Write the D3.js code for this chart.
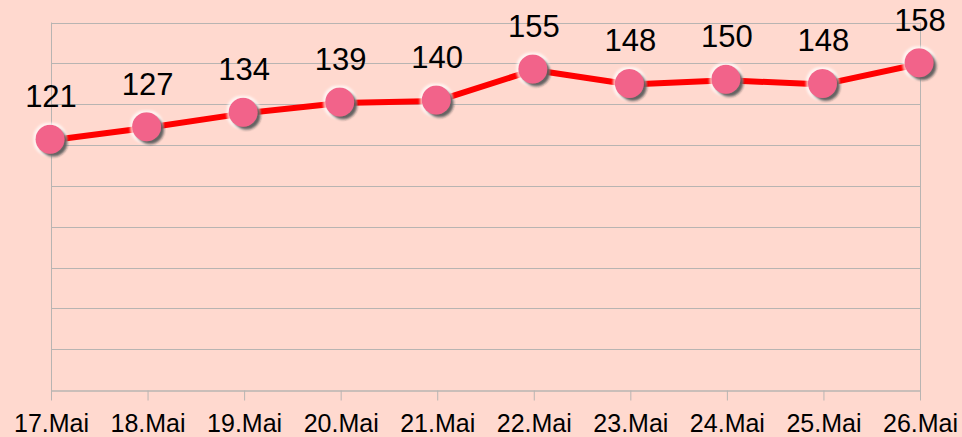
<!DOCTYPE html>
<html>
<head>
<meta charset="utf-8">
<script src="https://cdn.jsdelivr.net/npm/d3@7"></script>
<style>
  html, body { margin: 0; padding: 0; background: #ffd9cf; }
  #chart { width: 962px; height: 437px; font-family: "Liberation Sans", Arial, sans-serif; }
</style>
</head>
<body>
<div id="chart"></div>
<script>
// data
const days = ["17.Mai", "18.Mai", "19.Mai", "20.Mai", "21.Mai", "22.Mai", "23.Mai", "24.Mai", "25.Mai", "26.Mai"];
const values = [121, 127, 134, 139, 140, 155, 148, 150, 148, 158];
const yMax = 178;
const gridCount = 9;

const width = 962, height = 437;
const margin = {top: 22.5, right: 42, bottom: 47, left: 51};

const svg = d3.select("#chart")
  .append("svg")
    .attr("width", width)
    .attr("height", height);

svg.append("rect")
  .attr("width", width)
  .attr("height", height)
  .attr("fill", "#ffd9cf");

// shadow + light halo round the markers
const defs = svg.append("defs");
const f = defs.append("filter")
  .attr("id", "dot-shadow")
  .attr("x", "-50%").attr("y", "-50%")
  .attr("width", "200%").attr("height", "200%");
f.append("feMorphology").attr("in", "SourceAlpha").attr("operator", "dilate").attr("radius", 1.5).attr("result", "grow");
f.append("feGaussianBlur").attr("in", "grow").attr("stdDeviation", 1).attr("result", "growBlur");
f.append("feFlood").attr("flood-color", "#ffffff").attr("flood-opacity", 0.7);
f.append("feComposite").attr("in2", "growBlur").attr("operator", "in").attr("result", "halo");
f.append("feGaussianBlur").attr("in", "SourceAlpha").attr("stdDeviation", 1.2).attr("result", "blur");
f.append("feOffset").attr("in", "blur").attr("dx", 2.5).attr("dy", 3).attr("result", "off");
f.append("feFlood").attr("flood-color", "#1a1a1a").attr("flood-opacity", 0.85);
f.append("feComposite").attr("in2", "off").attr("operator", "in").attr("result", "shadow");
const m = f.append("feMerge");
m.append("feMergeNode").attr("in", "halo");
m.append("feMergeNode").attr("in", "shadow");
m.append("feMergeNode").attr("in", "SourceGraphic");

const x = d3.scalePoint()
  .domain(days)
  .range([margin.left, width - margin.right]);

const y = d3.scaleLinear()
  .domain([0, yMax])
  .range([height - margin.bottom, margin.top]);

// horizontal grid lines
const gridVals = d3.range(1, gridCount + 1).map(i => i * yMax / gridCount);
svg.append("g")
  .selectAll("line")
  .data(gridVals)
  .enter()
  .append("line")
    .attr("x1", margin.left)
    .attr("x2", width - margin.right)
    .attr("y1", d => Math.round(y(d)) + 0.5)
    .attr("y2", d => Math.round(y(d)) + 0.5)
    .attr("stroke", "#b8b4b2")
    .attr("stroke-width", 1);

// left and right frame lines
svg.append("g")
  .selectAll("line")
  .data([margin.left, width - margin.right])
  .enter()
  .append("line")
    .attr("x1", d => d + 0.5)
    .attr("x2", d => d + 0.5)
    .attr("y1", y(yMax))
    .attr("y2", y(0) + 10)
    .attr("stroke", "#b8b4b2")
    .attr("stroke-width", 1);

// X axis
const xAxis = svg.append("g")
  .attr("transform", "translate(0," + (Math.round(y(0)) + 0.5) + ")")
  .call(d3.axisBottom(x).tickSize(10).tickSizeOuter(0).tickPadding(8));
xAxis.select(".domain").attr("stroke", "#b8b4b2").attr("stroke-width", 1.5);
xAxis.selectAll(".tick line").attr("stroke", "#b8b4b2").attr("stroke-width", 1);
xAxis.selectAll(".tick text")
  .attr("fill", "#000")
  .style("font-size", "25px")
  .style("font-family", "'Liberation Sans', Arial, sans-serif")
  .attr("dy", null)
  .attr("y", 41);

// line
const line = d3.line()
  .x((d, i) => x(days[i]))
  .y(d => y(d));

svg.append("path")
  .datum(values)
  .attr("fill", "none")
  .attr("stroke", "#ff0000")
  .attr("stroke-width", 6)
  .attr("stroke-linejoin", "round")
  .attr("d", line);

// dots
svg.append("g")
  .selectAll("circle")
  .data(values)
  .enter()
  .append("circle")
    .attr("cx", (d, i) => x(days[i]) - 1)
    .attr("cy", d => y(d) - 1)
    .attr("r", 14.5)
    .attr("fill", "#f2648a")
    .attr("filter", "url(#dot-shadow)");

// value labels
svg.append("g")
  .selectAll("text")
  .data(values)
  .enter()
  .append("text")
    .attr("x", (d, i) => x(days[i]))
    .attr("y", d => y(d) - 33)
    .attr("text-anchor", "middle")
    .style("font-size", "31px")
    .style("font-family", "'Liberation Sans', Arial, sans-serif")
    .attr("fill", "#000")
    .text(d => d);
</script>
</body>
</html>
